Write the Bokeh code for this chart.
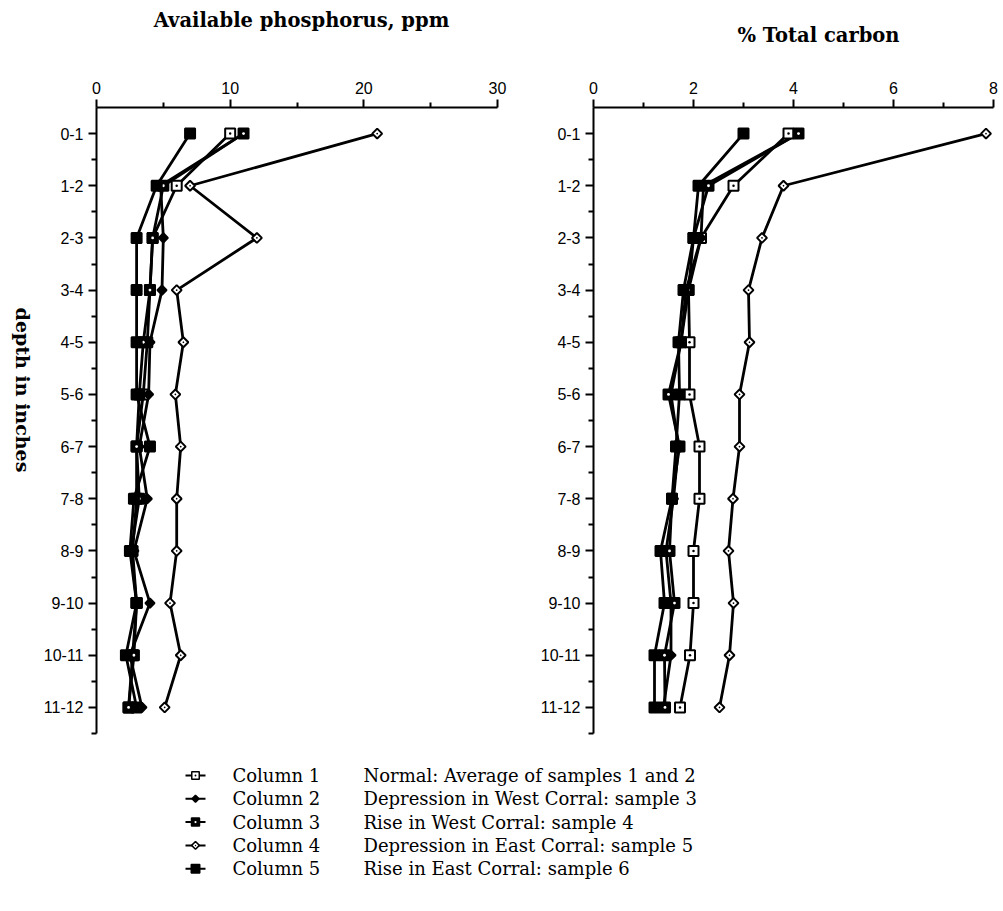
import math
from bokeh.plotting import figure
from bokeh.layouts import column, row
from bokeh.models import Range1d, FixedTicker, ColumnDataSource
from bokeh.embed import file_html
from bokeh.resources import INLINE
from bokeh.core.properties import value

# ---------------- data ----------------
depths = ["0-1", "1-2", "2-3", "3-4", "4-5", "5-6", "6-7", "7-8", "8-9", "9-10", "10-11", "11-12"]

phos_col1 = [10, 6.0, 4.2, 4.0, 3.8, 3.5, 3.0, 3.0, 2.7, 3.0, 2.7, 2.4]
phos_col2 = [11, 4.8, 5.0, 4.9, 4.0, 3.9, 3.2, 3.8, 2.8, 4.0, 2.5, 3.4]
phos_col3 = [11, 5.0, 4.2, 4.0, 3.5, 3.2, 3.0, 3.2, 2.6, 3.0, 2.8, 2.4]
phos_col4 = [21, 7.0, 12.0, 6.0, 6.5, 5.9, 6.3, 6.0, 6.0, 5.5, 6.3, 5.1]
phos_col5 = [7, 4.5, 3.0, 3.0, 3.0, 3.0, 4.0, 2.8, 2.5, 3.0, 2.2, 3.0]

carb_col1 = [3.9, 2.8, 2.15, 1.9, 1.92, 1.92, 2.12, 2.12, 2.0, 2.0, 1.93, 1.73]
carb_col2 = [4.1, 2.2, 2.15, 1.85, 1.75, 1.55, 1.7, 1.6, 1.45, 1.55, 1.55, 1.4]
carb_col3 = [4.1, 2.3, 2.0, 1.9, 1.75, 1.5, 1.72, 1.57, 1.52, 1.62, 1.42, 1.43]
carb_col4 = [7.85, 3.8, 3.37, 3.1, 3.12, 2.92, 2.92, 2.79, 2.7, 2.8, 2.72, 2.52]
carb_col5 = [3.0, 2.1, 2.0, 1.8, 1.7, 1.72, 1.65, 1.57, 1.34, 1.42, 1.22, 1.22]

phos_ticks = [0, 10, 20, 30]
phos_minor = [5, 15, 25]
carb_ticks = [0, 2, 4, 6, 8]
carb_minor = [1, 3, 5, 7]

phos_title = "Available phosphorus, ppm"
carb_title = "% Total carbon"
depth_title = "depth in inches"

legend_names = ["Column 1", "Column 2", "Column 3", "Column 4", "Column 5"]
legend_desc = [
    "Normal: Average of samples 1 and 2",
    "Depression in West Corral: sample 3",
    "Rise in West Corral: sample 4",
    "Depression in East Corral: sample 5",
    "Rise in East Corral: sample 6",
]

# marker styles per series: (marker, fill, size, angle, white dot)
styles = [
    ("square_dot", "white", 10, 0.0, False),
    ("square", "black", 6.5, math.pi / 4, False),
    ("square", "black", 10, 0.0, True),
    ("square_dot", "white", 7, math.pi / 4, False),
    ("square", "black", 10, 0.0, False),
]
legend_sizes = [7.5, 5, 8, 5.5, 8.5]

TICK_FONT = "Liberation Sans"
SERIF = "DejaVu Serif"
row_idx = list(range(len(depths)))

TOTAL_W = 1000
TITLE_H = 50
PLOT_H = 687
LEGEND_H = 150
LABEL_W = 40


def blank(p):
    p.outline_line_color = None
    p.grid.visible = False
    p.background_fill_color = "white"
    p.border_fill_color = "white"


def style_axes(p, xt, xm):
    blank(p)
    p.xaxis.ticker = FixedTicker(ticks=xt, minor_ticks=xm)
    p.yaxis.ticker = FixedTicker(ticks=row_idx, minor_ticks=[i + 0.5 for i in row_idx])
    p.yaxis.major_label_overrides = {i: d for i, d in enumerate(depths)}
    for ax in (p.xaxis, p.yaxis):
        ax.axis_line_width = 2
        ax.axis_line_color = "black"
        ax.major_tick_line_width = 2
        ax.minor_tick_line_width = 2
        ax.major_tick_line_color = "black"
        ax.minor_tick_line_color = "black"
        ax.major_tick_in = 0
        ax.minor_tick_in = 0
        ax.major_tick_out = 8
        ax.minor_tick_out = 5
        ax.major_label_text_font = TICK_FONT
        ax.major_label_text_font_size = "16px"
        ax.major_label_text_color = "black"
    p.xaxis.major_label_standoff = 6
    p.yaxis.major_label_standoff = 5


def draw_series(p, series):
    for vals in series:
        p.line(x=vals, y=row_idx, line_color="black", line_width=2.8)
    for vals, (mk, fill, size, ang, dot) in zip(series, styles):
        src = ColumnDataSource(dict(x=vals, y=row_idx))
        p.scatter(x="x", y="y", source=src, marker=mk, size=size, angle=ang,
                  fill_color=fill, line_color="black", line_width=2)
        if dot:
            p.scatter(x="x", y="y", source=src, marker="circle", size=2.8,
                      fill_color="white", line_color=None)


# ---------------- title strip ----------------
pt = figure(width=TOTAL_W, height=TITLE_H, output_backend="svg", toolbar_location=None,
            x_range=Range1d(0, TOTAL_W), y_range=Range1d(TITLE_H, 0),
            x_axis_location=None, y_axis_location=None, min_border=0)
blank(pt)
pt.text(x=[301, 818], y=[20, 35], text=[phos_title, carb_title], text_font=value(SERIF),
        text_font_style="bold", text_font_size="19.5px", text_align="center",
        text_baseline="middle", text_color="black")

# ---------------- depth label strip ----------------
pl = figure(width=LABEL_W, height=PLOT_H, output_backend="svg", toolbar_location=None,
            x_range=Range1d(0, LABEL_W), y_range=Range1d(PLOT_H, 0),
            x_axis_location=None, y_axis_location=None, min_border=0)
blank(pl)
pl.text(x=[22], y=[360 - TITLE_H], text=[depth_title], text_font=value(SERIF),
        text_font_style="bold", text_font_size="19px", text_align="center",
        text_baseline="middle", angle=-math.pi / 2, text_color="black")

# ---------------- left: phosphorus ----------------
p1 = figure(width=520 - LABEL_W, height=PLOT_H, output_backend="svg", toolbar_location=None,
            x_range=Range1d(0, 30), y_range=Range1d(11.5, -0.5),
            x_axis_location="above", min_border_left=96 - LABEL_W, min_border_right=23,
            min_border_top=107 - TITLE_H, min_border_bottom=4)
style_axes(p1, phos_ticks, phos_minor)
draw_series(p1, [phos_col1, phos_col2, phos_col3, phos_col4, phos_col5])

# ---------------- right: carbon ----------------
p2 = figure(width=480, height=PLOT_H, output_backend="svg", toolbar_location=None,
            x_range=Range1d(0, 8), y_range=Range1d(11.5, -0.5),
            x_axis_location="above", min_border_left=73, min_border_right=7,
            min_border_top=107 - TITLE_H, min_border_bottom=4)
style_axes(p2, carb_ticks, carb_minor)
draw_series(p2, [carb_col1, carb_col2, carb_col3, carb_col4, carb_col5])

# ---------------- legend ----------------
p3 = figure(width=TOTAL_W, height=LEGEND_H, output_backend="svg", toolbar_location=None,
            x_range=Range1d(0, TOTAL_W), y_range=Range1d(LEGEND_H, 0),
            x_axis_location=None, y_axis_location=None, min_border=0)
blank(p3)
ly = [38 + 23.3 * i for i in range(len(legend_names))]
p3.segment(x0=[185] * 5, x1=[205] * 5, y0=ly, y1=ly, line_color="black", line_width=2)
for i, (mk, fill, size, ang, dot) in enumerate(styles):
    p3.scatter(x=[195], y=[ly[i]], marker=mk, size=legend_sizes[i], angle=ang,
               fill_color=fill, line_color="black", line_width=1.5)
    if dot:
        p3.scatter(x=[195], y=[ly[i]], marker="circle", size=2.2,
                   fill_color="white", line_color=None)
p3.text(x=[232] * 5, y=ly, text=legend_names, text_font=value(SERIF),
        text_font_size="18px", text_baseline="middle", text_color="black")
p3.text(x=[363] * 5, y=ly, text=legend_desc, text_font=value(SERIF),
        text_font_size="18px", text_baseline="middle", text_color="black")

layout = column(pt, row(pl, p1, p2), p3)
open("out.html", "w").write(file_html(layout, INLINE))
